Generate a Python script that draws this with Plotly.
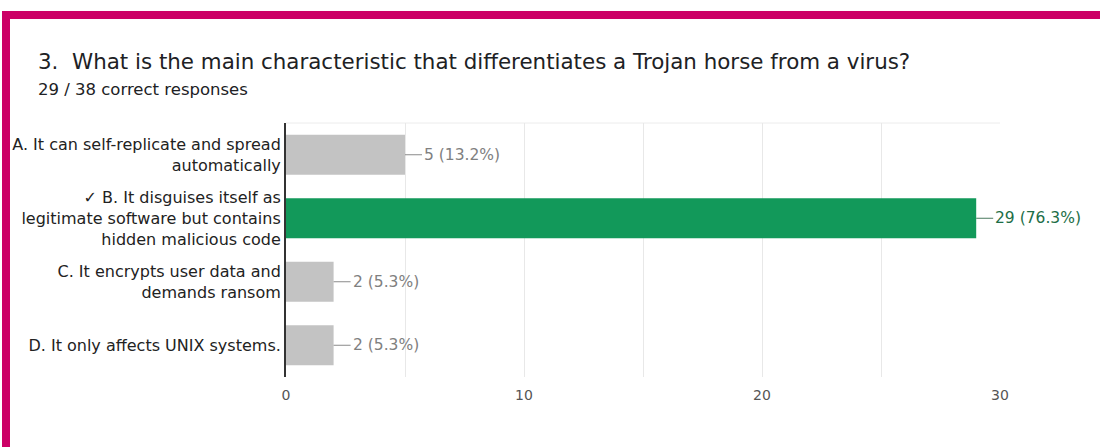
import plotly.graph_objects as go

categories = [
    "A. It can self-replicate and spread<br>automatically",
    "✓ B. It disguises itself as<br>legitimate software but contains<br>hidden malicious code",
    "C. It encrypts user data and<br>demands ransom",
    "D. It only affects UNIX systems.",
]
counts = [5, 29, 2, 2]
total_responses = 38
correct_index = 1
title_text = "3.  What is the main characteristic that differentiates a Trojan horse from a virus?"
subtitle_text = "29 / 38 correct responses"
x_ticks = [0, 10, 20, 30]

GREY = "#c3c3c3"
GREEN = "#12995a"
FONT = "DejaVu Sans, Arial"
W, H = 1100, 447
L, R, T, B = 286, 100, 123, 70
PW, PH = W - L - R, H - T - B

def px_x(p):
    return (p - L) / PW

def px_y(p):
    return (H - B - p) / PH

colors = [GREEN if i == correct_index else GREY for i in range(len(counts))]

fig = go.Figure(go.Bar(
    x=counts, y=categories, orientation="h",
    marker=dict(color=colors, line=dict(width=0)),
    width=0.63, hoverinfo="skip",
))

for i, (c, v) in enumerate(zip(categories, counts)):
    pct = 100.0 * v / total_responses
    col = "#1d6e47" if i == correct_index else "#808080"
    fig.add_annotation(
        x=v, y=c, xref="x", yref="y",
        text=f"{v} ({pct:.1f}%)", showarrow=True, arrowhead=0,
        arrowwidth=1, arrowcolor="#8a8a8a" if i != correct_index else "#4a7a5e",
        ax=17, ay=0, xanchor="left", standoff=0, startstandoff=0,
        font=dict(family=FONT, size=15.5, color=col),
    )

# title and subtitle
fig.add_annotation(x=px_x(36), y=px_y(62), xref="paper", yref="paper",
                   text=title_text, showarrow=False, xanchor="left", yanchor="middle",
                   font=dict(family=FONT, size=21.4, color="#202124"))
fig.add_annotation(x=px_x(36), y=px_y(89), xref="paper", yref="paper",
                   text=subtitle_text, showarrow=False, xanchor="left", yanchor="middle",
                   font=dict(family=FONT, size=16.5, color="#202124"))

# magenta frame
MAG = "#cc0066"
fig.add_shape(type="rect", xref="paper", yref="paper",
              x0=px_x(2), x1=px_x(1100), y0=px_y(19), y1=px_y(11),
              fillcolor=MAG, line=dict(width=0), layer="above")
fig.add_shape(type="rect", xref="paper", yref="paper",
              x0=px_x(2), x1=px_x(10), y0=px_y(447), y1=px_y(11),
              fillcolor=MAG, line=dict(width=0), layer="above")
# faint top border of plot
fig.add_shape(type="line", xref="paper", yref="paper", x0=0, x1=1, y0=1, y1=1,
              line=dict(color="#ececec", width=1), layer="below")

fig.update_layout(
    width=W, height=H,
    margin=dict(l=L, r=R, t=T, b=B),
    paper_bgcolor="white", plot_bgcolor="white",
    showlegend=False, bargap=0.37,
    xaxis=dict(range=[0, 30], tickvals=x_ticks, showgrid=True, gridcolor="#e8e8e8",
               minor=dict(dtick=5, showgrid=True, gridcolor="#e8e8e8", tick0=0),
               zeroline=False, showline=False, ticks="", ticklabelstandoff=8,
               tickfont=dict(family=FONT, size=14, color="#555555"),
               fixedrange=True),
    yaxis=dict(autorange="reversed", showgrid=False, showline=True, linecolor="#333333",
               linewidth=2, ticks="", ticklabelstandoff=0,
               tickfont=dict(family=FONT, size=16, color="#222222"),
               fixedrange=True),
)

fig.write_html("out.html", config={"displayModeBar": False},
               post_script="document.body.style.margin='0';")
